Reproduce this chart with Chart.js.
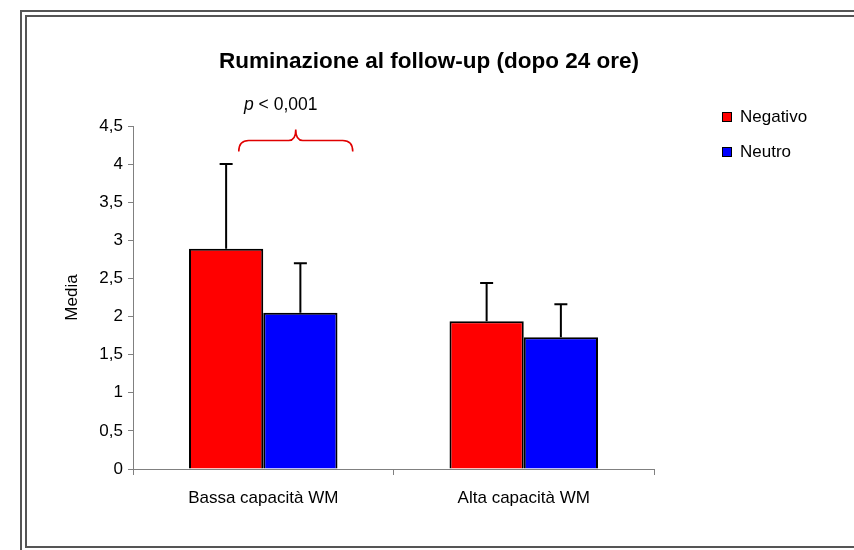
<!DOCTYPE html>
<html>
<head>
<meta charset="utf-8">
<script src="https://cdn.jsdelivr.net/npm/chart.js@4/dist/chart.umd.min.js"></script>
<style>
body{margin:0;background:#fff;width:854px;height:550px;overflow:hidden;position:relative;font-family:"Liberation Sans",Arial,sans-serif}
.frame1{position:absolute;left:20px;top:10px;width:900px;height:600px;border:2px solid #555;box-sizing:border-box}
.frame2{position:absolute;left:25px;top:15px;width:900px;height:533px;border:2px solid #555;box-sizing:border-box}
canvas{position:absolute;left:0;top:0}
</style>
</head>
<body>
<div class="frame1"></div>
<div class="frame2"></div>
<canvas id="chart" width="854" height="550"></canvas>
<script>

// dati
const categorie=["Bassa capacità WM","Alta capacità WM"]
const negativo=[2.89,1.94]
const neutro=[2.05,1.73]
const errNegativo=[1.11,0.50]
const errNeutro=[0.65,0.43]
const titolo="Ruminazione al follow-up (dopo 24 ore)"

const FONT='"Liberation Sans", Arial, sans-serif'

const extra={
id:'extra',
afterDatasetsDraw(chart){
const ctx=chart.ctx
const y=chart.scales.y
const errs=[errNegativo,errNeutro]
ctx.save()
ctx.strokeStyle='#000'
ctx.lineWidth=2
chart.data.datasets.forEach((ds,i)=>{
chart.getDatasetMeta(i).data.forEach((bar,j)=>{
let top=y.getPixelForValue(ds.data[j]+errs[i][j])
ctx.beginPath()
ctx.moveTo(bar.x,bar.y)
ctx.lineTo(bar.x,top)
ctx.moveTo(bar.x-6.5,top)
ctx.lineTo(bar.x+6.5,top)
ctx.stroke()
})
})
ctx.restore()
},
afterDraw(chart){
const ctx=chart.ctx
const x=chart.scales.x
const y=chart.scales.y
ctx.save()
// titolo
ctx.fillStyle='#000'
ctx.font='bold 22.5px '+FONT
ctx.textAlign='center'
ctx.textBaseline='middle'
ctx.fillText(titolo,429,62)
// parentesi graffa
let c=x.getPixelForValue(0)
let l=c-24.5,r=c+89.5,m=c+32.5
let yh=y.getPixelForValue(4.31)
ctx.strokeStyle='#e00000'
ctx.lineWidth=1.6
ctx.beginPath()
ctx.moveTo(l,yh+11)
ctx.quadraticCurveTo(l,yh,l+10,yh)
ctx.lineTo(m-7,yh)
ctx.quadraticCurveTo(m,yh,m,yh-11)
ctx.quadraticCurveTo(m,yh,m+7,yh)
ctx.lineTo(r-10,yh)
ctx.quadraticCurveTo(r,yh,r,yh+11)
ctx.stroke()
// p < 0,001
ctx.textAlign='left'
ctx.font='italic 17.5px '+FONT
ctx.fillText('p',244,105)
let pw=ctx.measureText('p').width
ctx.font='17.5px '+FONT
ctx.fillText(' < 0,001',244+pw,105)
// legenda
const items=[["Negativo","#ff0000",117],["Neutro","#0000ff",152]]
items.forEach(it=>{
ctx.fillStyle=it[1]
ctx.fillRect(722,it[2]-5,10,10)
ctx.strokeStyle='#000'
ctx.lineWidth=1
ctx.strokeRect(722.5,it[2]-4.5,9,9)
ctx.fillStyle='#000'
ctx.font='17px '+FONT
ctx.textBaseline='middle'
ctx.fillText(it[0],740,it[2])
})
ctx.restore()
}
}

new Chart(document.getElementById("chart"),{
type:'bar',
data:{
labels:categorie,
datasets:[{
label:"Negativo",
data:negativo,
backgroundColor:'#ff0000',
borderColor:'#000',
borderWidth:2,
barPercentage:1,
categoryPercentage:0.57
},{
label:"Neutro",
data:neutro,
backgroundColor:'#0000ff',
borderColor:'#000',
borderWidth:2,
barPercentage:1,
categoryPercentage:0.57
}]
},
options:{
responsive:false,
animation:false,
layout:{padding:{top:126,left:60,right:200,bottom:0}},
plugins:{legend:{display:false},tooltip:{enabled:false},title:{display:false}},
scales:{
x:{
afterFit(s){s.height=81},
grid:{drawOnChartArea:false,drawTicks:true,tickLength:6,color:'#808080',offset:true},
border:{color:'#808080',width:1},
ticks:{font:{family:FONT,size:17},color:'#000',padding:13}
},
y:{
min:0,max:4.5,
afterFit(s){s.width=73},
grid:{drawOnChartArea:false,drawTicks:true,tickLength:5,color:'#808080'},
border:{color:'#808080',width:1},
ticks:{stepSize:0.5,font:{family:FONT,size:17},color:'#000',padding:5,
callback:v=>String(v).replace('.',',')},
title:{display:true,text:'Media',font:{family:FONT,size:17},color:'#000',padding:{top:2,bottom:4}}
}
}
},
plugins:[extra]
})
</script>
</body>
</html>
